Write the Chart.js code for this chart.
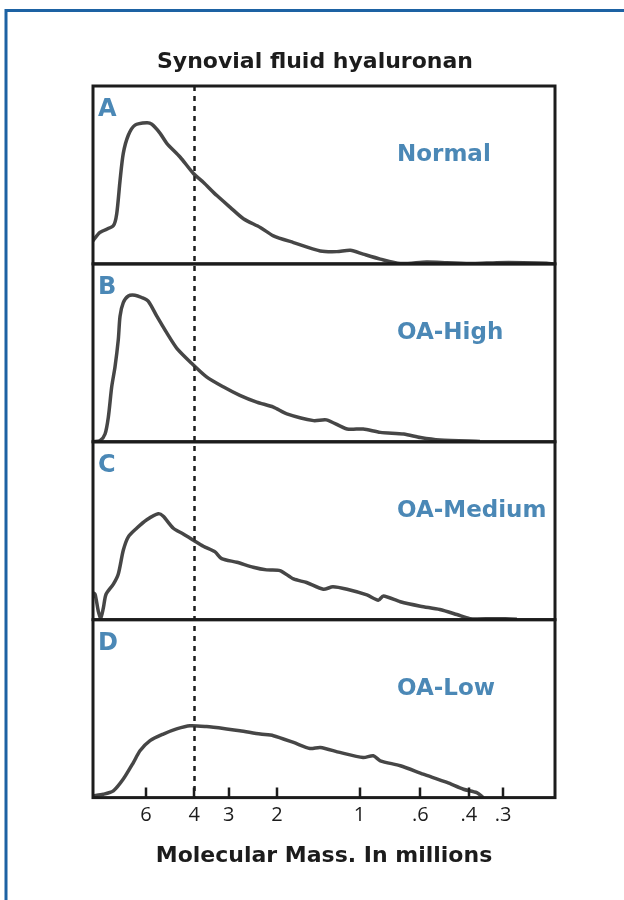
<!DOCTYPE html>
<html>
<head>
<meta charset="utf-8">
<script src="https://cdn.jsdelivr.net/npm/chart.js@4.4.0/dist/chart.umd.min.js"></script>
<style>
  html, body { margin: 0; padding: 0; background: #fff; }
  #wrap { position: relative; width: 624px; height: 900px; }
</style>
</head>
<body>
<div id="wrap"><canvas id="myChart" width="624" height="900"></canvas></div>
<script>
// molecular mass (millions) on x, detector signal as % of panel height on y

const massA = [9.36, 8.83, 7.89, 7.67, 7.46, 7.26, 6.96, 6.58, 5.96, 5.72, 5.33, 5.04, 4.51, 4.03, 3.71, 3.31, 2.96, 2.65, 2.30, 2.06, 1.74, 1.39, 1.21, 1.08, 0.97, 0.84, 0.71, 0.57, 0.48, 0.385, 0.316, 0.253, 0.208, 0.197];
const normal = [13, 17.7, 21.5, 28.2, 46.9, 62.1, 72.3, 78, 79.3, 78.5, 73.4, 67.8, 60.1, 50.8, 45.9, 38.4, 31.8, 25.4, 20.5, 15.8, 12, 7.3, 6.9, 7.7, 5.5, 2.7, 0.2, 1.1, 0.7, 0.2, 0.7, 0.7, 0.4, 0];

const massB = [9.34, 8.83, 8.46, 8.23, 8.00, 7.78, 7.57, 7.46, 7.26, 6.96, 6.58, 6.22, 5.89, 5.48, 5.04, 4.64, 4.09, 3.61, 3.14, 2.73, 2.37, 2.06, 1.84, 1.47, 1.32, 1.11, 0.97, 0.84, 0.69, 0.60, 0.51, 0.364];
const oaHigh = [0, 0.6, 4.4, 13.8, 30.9, 42.2, 57.4, 70.6, 78.2, 82, 82.4, 81.1, 79.1, 70.6, 61.2, 52.7, 44.1, 36.5, 30.9, 26.1, 22.3, 19.5, 15.7, 11.9, 12.3, 7.2, 7.2, 5.3, 4.4, 2.4, 1, 0.2];

const massC = [9.38, 9.20, 8.95, 8.77, 8.58, 8.39, 7.89, 7.57, 7.26, 6.96, 6.49, 5.96, 5.41, 5.19, 4.77, 4.39, 4.03, 3.71, 3.36, 3.18, 2.80, 2.44, 2.18, 1.95, 1.74, 1.56, 1.355, 1.25, 1.11, 0.94, 0.854, 0.819, 0.71, 0.60, 0.51, 0.442, 0.396, 0.325, 0.267];
const oaMedium = [15.2, 14.3, 4.7, 0.9, 6.6, 14.3, 20, 25.7, 39, 46.6, 51.4, 56.2, 59.6, 58.1, 51.4, 48.2, 44.7, 41.3, 38.1, 34.3, 32.3, 29.5, 28, 27.6, 22.9, 20.9, 17.1, 18.5, 17.1, 13.9, 10.9, 13.3, 10.1, 7.6, 5.7, 2.9, 0.6, 0.6, 0.3];

const massD = [9.38, 8.58, 7.89, 7.26, 6.67, 6.31, 5.80, 5.19, 4.64, 4.15, 3.61, 3.05, 2.73, 2.30, 2.06, 1.74, 1.515, 1.39, 1.18, 0.97, 0.891, 0.84, 0.71, 0.586, 0.48, 0.418, 0.374, 0.354];
const oaLow = [1, 1.9, 3.8, 10.4, 19.7, 26.3, 32, 35.7, 38.6, 40.4, 39.9, 38.6, 37.6, 35.7, 34.8, 31, 27.6, 28.2, 25.4, 22.5, 23.5, 20.7, 17.9, 13.2, 8.5, 4.7, 2.8, 0];

const panelLetters = ["A", "B", "C", "D"];
const panelNames = ["Normal", "OA-High", "OA-Medium", "OA-Low"];
const tickMasses = [6, 4, 3, 2, 1, 0.6, 0.4, 0.3];
const markerMass = 4;

const chartTitle = "Synovial fluid hyaluronan";
const xTitle = "Molecular Mass. In millions";

const panelAxes = ["yA", "yB", "yC", "yD"];
const blueText = "#4b88b6";
const ink = "#1c1c1c";

function pairs(xs, ys) {
   return xs.map((m, i) => ({ x: m, y: ys[i] }));
}

function curve(xs, ys, axis) {
   return {
      data: pairs(xs, ys),
      yAxisID: axis,
      borderColor: "rgba(50, 50, 50, 0.9)",
      borderWidth: 3.5,
      pointRadius: 0,
      tension: 0.25,
      fill: false
   };
}

// frames, dotted 4M marker, inward ticks and the panel labels
const panelPlugin = {
   id: "panels",
   beforeDraw(chart) {
      const ctx = chart.ctx;
      ctx.save();
      ctx.strokeStyle = "#1d62a3";
      ctx.lineWidth = 3;
      ctx.beginPath();
      ctx.moveTo(6, 900);
      ctx.lineTo(6, 10.5);
      ctx.lineTo(624, 10.5);
      ctx.stroke();

      ctx.fillStyle = ink;
      ctx.font = "bold 22px 'DejaVu Sans'";
      ctx.textAlign = "center";
      ctx.textBaseline = "alphabetic";
      ctx.fillText(chartTitle, 315, 68);
      ctx.restore();
   },
   beforeDatasetsDraw(chart) {
      const ctx = chart.ctx;
      const area = chart.chartArea;
      const x = Math.round(chart.scales.x.getPixelForValue(markerMass)) + 0.5;
      ctx.save();
      ctx.strokeStyle = ink;
      ctx.lineWidth = 2.5;
      ctx.setLineDash([5, 5]);
      ctx.beginPath();
      ctx.moveTo(x, area.top);
      ctx.lineTo(x, area.bottom);
      ctx.stroke();
      ctx.restore();
   },
   afterDatasetsDraw(chart) {
      const ctx = chart.ctx;
      const area = chart.chartArea;
      ctx.save();
      ctx.strokeStyle = ink;
      ctx.lineWidth = 3;
      panelAxes.forEach((id, i) => {
         const s = chart.scales[id];
         ctx.strokeRect(area.left, s.top, area.right - area.left, s.bottom - s.top);

         ctx.fillStyle = blueText;
         ctx.textAlign = "left";
         ctx.textBaseline = "alphabetic";
         ctx.font = "bold 24px 'DejaVu Sans'";
         ctx.fillText(panelLetters[i], 98, s.top + 30);
         ctx.font = "bold 23px 'DejaVu Sans'";
         ctx.fillText(panelNames[i], 397, s.top + 75);
      });

      // short ticks pointing up into the bottom panel
      ctx.strokeStyle = ink;
      ctx.lineWidth = 2.5;
      ctx.beginPath();
      tickMasses.forEach(v => {
         const x = Math.round(chart.scales.x.getPixelForValue(v));
         ctx.moveTo(x, area.bottom);
         ctx.lineTo(x, area.bottom - 10);
      });
      ctx.stroke();
      ctx.restore();
   }
};

const yScale = {
   type: "linear",
   position: "right",
   stack: "panels",
   stackWeight: 1,
   min: 0,
   max: 100,
   display: false
};

let ctx = document.getElementById("myChart").getContext("2d");
let synovialChart = new Chart(ctx, {
   type: "line",
   data: {
      datasets: [
         curve(massA, normal, "yA"),
         curve(massB, oaHigh, "yB"),
         curve(massC, oaMedium, "yC"),
         curve(massD, oaLow, "yD")
      ]
   },
   options: {
      responsive: false,
      devicePixelRatio: 1,
      animation: false,
      layout: { padding: { left: 93, right: 69, top: 86, bottom: 31 } },
      plugins: {
         legend: { display: false },
         tooltip: { enabled: false },
         title: { display: false }
      },
      scales: {
         x: {
            type: "logarithmic",
            reverse: true,
            min: 0.194,
            max: 9.36,
            grid: { display: false, drawTicks: false },
            border: { display: false },
            afterBuildTicks: scale => {
               scale.ticks = tickMasses.map(v => ({ value: v }));
            },
            ticks: {
               autoSkip: false,
               maxRotation: 0,
               padding: 6,
               color: ink,
               font: { family: "Open Sans", size: 20 },
               callback: v => (v >= 1 ? String(v) : String(v).replace(/^0/, ""))
            },
            title: {
               display: true,
               text: xTitle,
               color: ink,
               font: { family: "DejaVu Sans", size: 22, weight: "bold" },
               padding: { top: 9, bottom: 0 }
            }
         },
         yA: Object.assign({}, yScale),
         yB: Object.assign({}, yScale),
         yC: Object.assign({}, yScale),
         yD: Object.assign({}, yScale)
      }
   },
   plugins: [panelPlugin]
});
</script>
</body>
</html>
